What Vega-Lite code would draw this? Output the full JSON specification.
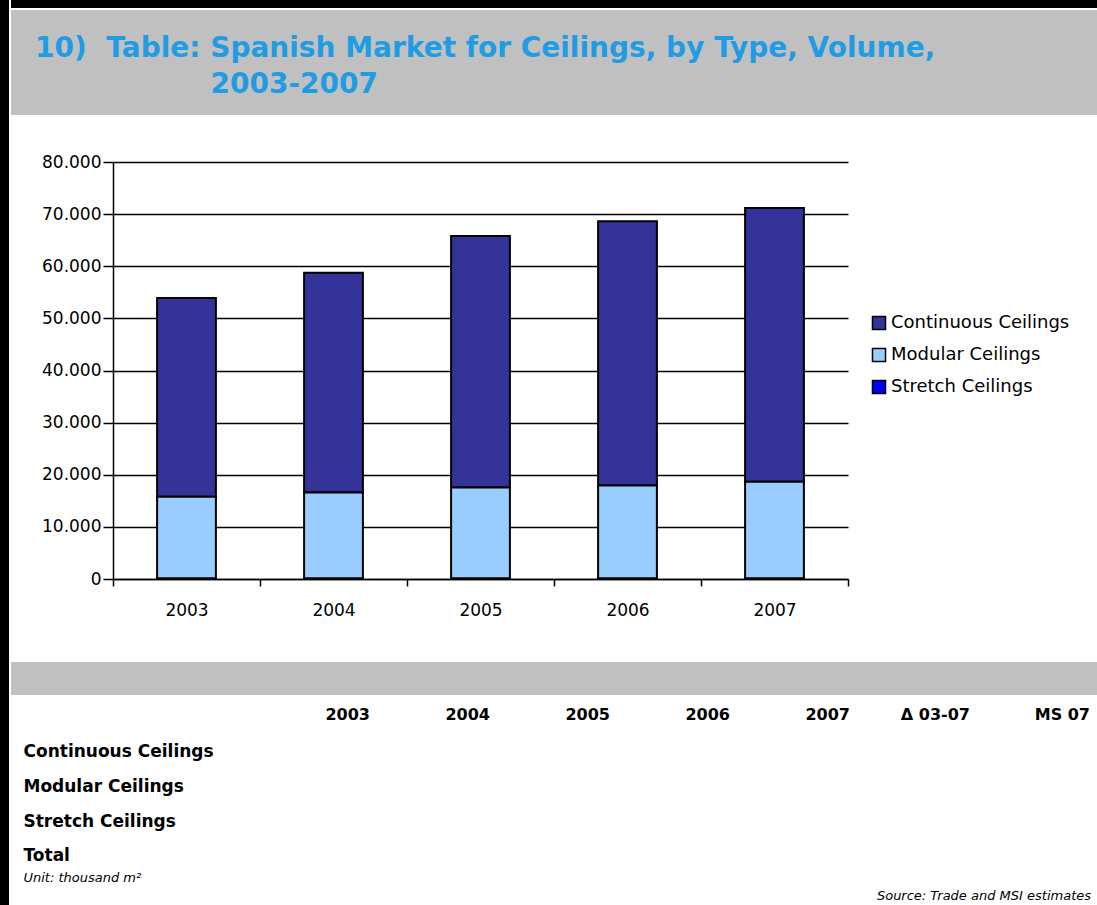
{
  "$schema": "https://vega.github.io/schema/vega-lite/v6.json",
  "background": "white",
  "padding": 0,
  "config": {
    "view": {"stroke": null},
    "font": "DejaVu Sans",
    "locale": {"number": {"decimal": ",", "thousands": ".", "grouping": [3], "currency": ["", " €"]}}
  },
  "datasets": {
    "market": [
      {"year": "2003", "type": "Continuous Ceilings", "value": 38140},
      {"year": "2003", "type": "Modular Ceilings", "value": 15670},
      {"year": "2003", "type": "Stretch Ceilings", "value": 100},
      {"year": "2004", "type": "Continuous Ceilings", "value": 42160},
      {"year": "2004", "type": "Modular Ceilings", "value": 16500},
      {"year": "2004", "type": "Stretch Ceilings", "value": 100},
      {"year": "2005", "type": "Continuous Ceilings", "value": 48240},
      {"year": "2005", "type": "Modular Ceilings", "value": 17460},
      {"year": "2005", "type": "Stretch Ceilings", "value": 100},
      {"year": "2006", "type": "Continuous Ceilings", "value": 50680},
      {"year": "2006", "type": "Modular Ceilings", "value": 17840},
      {"year": "2006", "type": "Stretch Ceilings", "value": 100},
      {"year": "2007", "type": "Continuous Ceilings", "value": 52530},
      {"year": "2007", "type": "Modular Ceilings", "value": 18550},
      {"year": "2007", "type": "Stretch Ceilings", "value": 100}
    ]
  },
  "hconcat": [
    {
      "width": 9, "height": 905,
      "data": {"values": []},
      "mark": "rect",
      "view": {"fill": "black", "stroke": null}
    },
    {
      "vconcat": [
        {
          "width": 1086, "height": 8,
          "data": {"values": []},
          "mark": "rect",
          "view": {"fill": "black", "stroke": null}
        },
        {
          "width": 1, "height": 2,
          "data": {"values": []},
          "mark": "rect"
        },
        {
          "width": 1086, "height": 105,
          "data": {"values": []},
          "mark": "rect",
          "view": {"fill": "#C0C0C0", "stroke": null},
          "title": {
            "text": "10)\u00a0\u00a0Table: Spanish Market for Ceilings, by Type, Volume,",
            "subtitle": "\u200b\u00a0\u00a0\u00a0\u00a0\u00a0\u00a0\u00a0\u00a0\u00a0\u00a0\u00a0\u00a0\u00a0\u00a0\u00a0\u00a0\u00a0\u00a02003-2007",
            "orient": "top",
            "anchor": "start",
            "frame": "group",
            "offset": -89,
            "dx": 24,
            "font": "DejaVu Sans",
            "fontSize": 28,
            "fontWeight": "bold",
            "color": "#1F9CE4",
            "subtitleFont": "DejaVu Sans",
            "subtitleFontSize": 28,
            "subtitleFontWeight": "bold",
            "subtitleColor": "#1F9CE4",
            "subtitlePadding": 8
          }
        },
        {
          "width": 1, "height": 47,
          "data": {"values": []},
          "mark": "rect"
        },
        {
          "hconcat": [
            {
              "width": 1, "height": 417,
              "data": {"values": []},
              "mark": "rect"
            },
            {
              "width": 735, "height": 417,
              "data": {"name": "market"},
              "mark": {"type": "bar", "stroke": "black", "strokeWidth": 2, "width": {"band": 0.4}},
              "encoding": {
                "x": {
                  "field": "year", "type": "ordinal",
                  "scale": {"paddingInner": 0, "paddingOuter": 0},
                  "axis": {
                    "title": null, "labelAngle": 0, "tickBand": "extent",
                    "tickSize": 7, "tickWidth": 1.5, "tickColor": "black",
                    "domainColor": "black", "domainWidth": 1.5,
                    "labelFont": "DejaVu Sans", "labelFontSize": 17, "labelColor": "black",
                    "labelPadding": 16, "grid": false
                  }
                },
                "y": {
                  "field": "value", "type": "quantitative", "stack": "zero",
                  "scale": {"domain": [0, 80000], "nice": false},
                  "axis": {
                    "title": null,
                    "values": [0, 10000, 20000, 30000, 40000, 50000, 60000, 70000, 80000],
                    "format": ",d",
                    "grid": true, "gridColor": "black", "gridWidth": 1.7, "gridOpacity": 1,
                    "tickSize": 10, "tickColor": "black", "tickWidth": 1.5,
                    "domainColor": "black", "domainWidth": 1.5,
                    "labelFont": "DejaVu Sans", "labelFontSize": 17, "labelColor": "black",
                    "labelPadding": 2
                  }
                },
                "color": {
                  "field": "type", "type": "nominal",
                  "scale": {
                    "domain": ["Continuous Ceilings", "Modular Ceilings", "Stretch Ceilings"],
                    "range": ["#333399", "#99CCFF", "#0000FF"]
                  },
                  "legend": {
                    "title": null, "orient": "none", "legendX": 870, "legendY": 314,
                    "symbolType": "square", "symbolSize": 170,
                    "symbolStrokeColor": "black", "symbolStrokeWidth": 1.5,
                    "labelFont": "DejaVu Sans", "labelFontSize": 18, "labelColor": "black",
                    "labelLimit": 300, "rowPadding": 12, "labelOffset": 3
                  }
                },
                "order": {"field": "type", "sort": "descending"}
              }
            }
          ],
          "spacing": 101,
          "bounds": "flush"
        },
        {
          "width": 1, "height": 500,
          "data": {"values": []},
          "mark": "rect"
        },
        {
          "width": 1086, "height": 33,
          "data": {"values": []},
          "mark": "rect",
          "view": {"fill": "#C0C0C0", "stroke": null}
        },
        {
          "width": 1, "height": 39.7,
          "data": {"values": []},
          "mark": "rect"
        },
        {
          "hconcat": [
            {
              "width": 1, "height": 138.7,
              "data": {"values": []},
              "mark": "rect"
            },
            {
              "width": 1068, "height": 138.7,
              "title": {
                "text": "Source: Trade and MSI estimates",
                "orient": "bottom", "anchor": "end", "frame": "group",
                "offset": 5,
                "font": "DejaVu Sans", "fontSize": 13, "fontStyle": "italic",
                "fontWeight": "normal", "color": "black"
              },
              "layer": [
                {
                  "data": {"name": "market"},
                  "mark": {"type": "text", "opacity": 0},
                  "encoding": {
                    "x": {
                      "field": "year", "type": "ordinal",
                      "scale": {
                        "type": "band",
                        "domain": ["2003", "2004", "2005", "2006", "2007", "Δ 03-07", "MS 07"],
                        "paddingInner": 0, "paddingOuter": 0.95, "align": 0.9956
                      },
                      "axis": {
                        "orient": "top", "title": null, "labelOffset": 60,
                        "labelAlign": "right", "labelBaseline": "middle",
                        "labelPadding": 20.7, "ticks": false, "domain": false,
                        "labelAngle": 0, "labelOverlap": false, "labelBound": false,
                        "labelFont": "DejaVu Sans", "labelFontSize": 16,
                        "labelFontWeight": "bold", "labelColor": "black"
                      }
                    },
                    "y": {
                      "field": "type", "type": "ordinal",
                      "scale": {
                        "type": "band",
                        "domain": ["Continuous Ceilings", "Modular Ceilings", "Stretch Ceilings", "Total"],
                        "paddingInner": 0, "paddingOuter": 0
                      },
                      "axis": {
                        "title": null, "ticks": false, "domain": false,
                        "labelAlign": "left", "labelPadding": 0, "labelLimit": 400,
                        "labelFont": "DejaVu Sans", "labelFontSize": 17,
                        "labelFontWeight": "bold", "labelColor": "black"
                      }
                    },
                    "text": {"field": "value", "type": "quantitative"}
                  }
                },
                {
                  "data": {"name": "market"},
                  "mark": {"type": "text", "opacity": 0},
                  "encoding": {
                    "x": {
                      "field": "year", "type": "ordinal",
                      "axis": {
                        "orient": "bottom", "labels": false, "ticks": false, "domain": false,
                        "title": "Unit: thousand m²", "titleAnchor": "start",
                        "titleFont": "DejaVu Sans", "titleFontSize": 13,
                        "titleFontStyle": "italic", "titleFontWeight": "normal",
                        "titleColor": "black", "titlePadding": -2
                      }
                    },
                    "y": {
                      "field": "type", "type": "ordinal",
                      "axis": {
                        "title": null, "ticks": false, "domain": false,
                        "labelAlign": "left", "labelPadding": 0, "labelLimit": 400,
                        "labelFont": "DejaVu Sans", "labelFontSize": 17,
                        "labelFontWeight": "bold", "labelColor": "black"
                      }
                    },
                    "text": {"field": "value", "type": "quantitative"}
                  }
                }
              ],
              "resolve": {"axis": {"x": "independent"}}
            }
          ],
          "spacing": 11,
          "bounds": "flush"
        }
      ],
      "spacing": 0,
      "bounds": "flush"
    }
  ],
  "spacing": 2,
  "bounds": "flush"
}
